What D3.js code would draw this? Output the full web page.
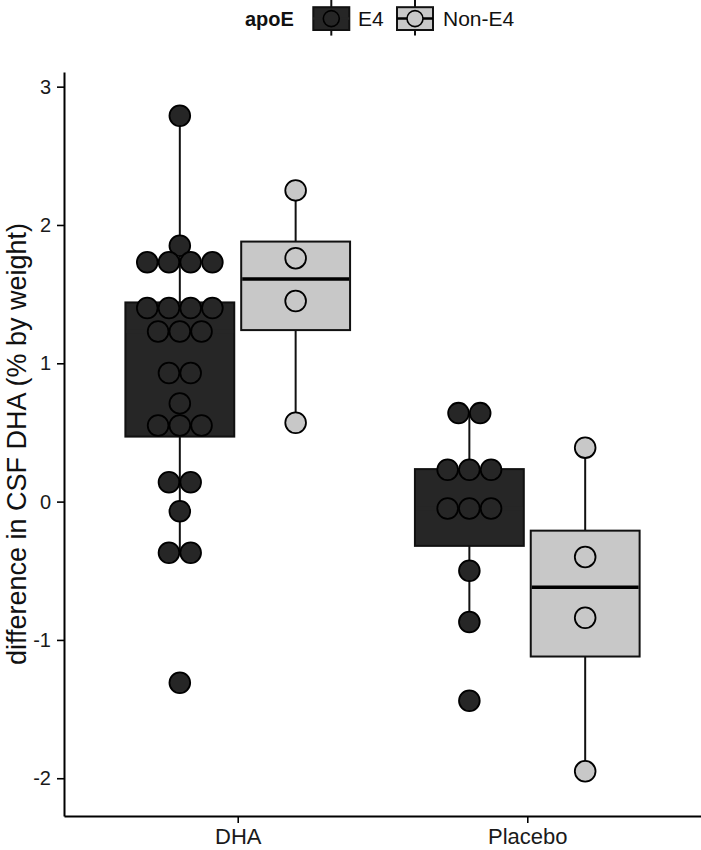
<!DOCTYPE html>
<html>
<head>
<meta charset="utf-8">
<script src="https://cdn.jsdelivr.net/npm/d3@7"></script>
<style>
  body { margin: 0; background: #fff; }
  text { font-family: "Liberation Sans", Arial, sans-serif; }
</style>
</head>
<body>
<div id="chart"></div>
<script>
var W = 701, H = 850,
    margin = { top: 72, right: 0, bottom: 34, left: 64 };

// treatment groups and apoE genotype
var categories = ["DHA", "Placebo"];
var genotypes = ["E4", "Non-E4"];
var colors = ["#262626", "#c8c8c8"];

// dot values (one entry per participant, binned as in the dotplot)
var dhaE4 = [2.79, 1.85, 1.73, 1.73, 1.73, 1.73, 1.40, 1.40, 1.40, 1.40,
             1.23, 1.23, 1.23, 0.93, 0.93, 0.71, 0.55, 0.55, 0.55,
             0.14, 0.14, -0.07, -0.37, -0.37, -1.31];
var dhaNonE4 = [2.25, 1.76, 1.45, 0.57];
var placeboE4 = [0.64, 0.64, 0.23, 0.23, 0.23, -0.05, -0.05, -0.05, -0.50, -0.87, -1.44];
var placeboNonE4 = [0.39, -0.40, -0.84, -1.95];

// box statistics, order: DHA/E4, DHA/Non-E4, Placebo/E4, Placebo/Non-E4
var boxGroup = ["DHA", "DHA", "Placebo", "Placebo"];
var boxGeno = ["E4", "Non-E4", "E4", "Non-E4"];
var boxLow = [-0.37, 0.57, -0.87, -1.95];
var boxQ1 = [0.47, 1.24, -0.32, -1.12];
var boxMed = [1.23, 1.61, -0.05, -0.62];
var boxQ3 = [1.44, 1.88, 0.235, -0.21];
var boxHigh = [2.79, 2.25, 0.64, 0.39];
var dotSets = [dhaE4, dhaNonE4, placeboE4, placeboNonE4];

var yTicks = [-2, -1, 0, 1, 2, 3];
var binwidth = 0.157;

var svg = d3.select("#chart").append("svg")
    .attr("width", W)
    .attr("height", H);

var x = d3.scalePoint()
    .domain(categories)
    .range([margin.left, W - margin.right])
    .padding(0.6);

var y = d3.scaleLinear()
    .domain([-2.273, 3.106])
    .range([H - margin.bottom, margin.top]);

var fill = d3.scaleOrdinal().domain(genotypes).range(colors);
// the median of the dark boxes does not show against the fill
var medianColor = d3.scaleOrdinal().domain(genotypes).range(["#262626", "#000"]);
var dodge = d3.scalePoint().domain(genotypes).range([-0.2, 0.2]);

var step = x.step(),
    boxW = 0.376 * step,
    dotD = y(0) - y(binwidth);

var groups = boxGroup.map(function(g, i) {
  return {
    group: g, geno: boxGeno[i],
    cx: x(g) + dodge(boxGeno[i]) * step,
    low: boxLow[i], q1: boxQ1[i], med: boxMed[i], q3: boxQ3[i], high: boxHigh[i],
    dots: dotSets[i]
  };
});

// boxplots
var box = svg.append("g").selectAll("g")
    .data(groups)
    .enter().append("g");

box.append("line")
    .attr("x1", function(d) { return d.cx; })
    .attr("x2", function(d) { return d.cx; })
    .attr("y1", function(d) { return y(d.q3); })
    .attr("y2", function(d) { return y(d.high); })
    .attr("stroke", "#111").attr("stroke-width", 2);

box.append("line")
    .attr("x1", function(d) { return d.cx; })
    .attr("x2", function(d) { return d.cx; })
    .attr("y1", function(d) { return y(d.q1); })
    .attr("y2", function(d) { return y(d.low); })
    .attr("stroke", "#111").attr("stroke-width", 2);

box.append("rect")
    .attr("x", function(d) { return d.cx - boxW / 2; })
    .attr("width", boxW)
    .attr("y", function(d) { return y(d.q3); })
    .attr("height", function(d) { return y(d.q1) - y(d.q3); })
    .attr("fill", function(d) { return fill(d.geno); })
    .attr("stroke", "#111").attr("stroke-width", 2);

box.append("line")
    .attr("x1", function(d) { return d.cx - boxW / 2 + 1; })
    .attr("x2", function(d) { return d.cx + boxW / 2 - 1; })
    .attr("y1", function(d) { return y(d.med); })
    .attr("y2", function(d) { return y(d.med); })
    .attr("stroke", function(d) { return medianColor(d.geno); })
    .attr("stroke-width", 3.5);

// dotplot, stacked centred on each bin
var dots = [];
groups.forEach(function(g) {
  d3.groups(g.dots, function(v) { return v; }).forEach(function(bin) {
    var n = bin[1].length;
    bin[1].forEach(function(v, k) {
      dots.push({ v: v, geno: g.geno, cx: g.cx + (k - (n - 1) / 2) * dotD });
    });
  });
});

svg.append("g").selectAll("circle")
    .data(dots)
    .enter().append("circle")
    .attr("cx", function(d) { return d.cx; })
    .attr("cy", function(d) { return y(d.v); })
    .attr("r", dotD / 2 - 0.5)
    .attr("fill", function(d) { return fill(d.geno); })
    .attr("stroke", "#000")
    .attr("stroke-width", 1.8);

// axes
var yAxis = svg.append("g")
    .attr("transform", "translate(" + margin.left + ",0)")
    .call(d3.axisLeft(y).tickValues(yTicks).tickFormat(function(d) { return String(d); })
      .tickSize(7).tickSizeOuter(0).tickPadding(6));

var xAxis = svg.append("g")
    .attr("transform", "translate(0," + (H - margin.bottom) + ")")
    .call(d3.axisBottom(x).tickSize(7).tickSizeOuter(0).tickPadding(5));

[yAxis, xAxis].forEach(function(a) {
  a.select(".domain").attr("stroke", "#000").attr("stroke-width", 2);
  a.selectAll(".tick line").attr("stroke", "#000").attr("stroke-width", 1.6);
});
yAxis.selectAll(".tick text")
    .attr("font-size", 20).attr("fill", "#1a1a1a")
    .attr("font-family", "Liberation Sans, Arial, sans-serif");
xAxis.selectAll(".tick text")
    .attr("font-size", 22).attr("fill", "#1a1a1a")
    .attr("font-family", "Liberation Sans, Arial, sans-serif");

svg.append("text")
    .attr("transform", "translate(26," + ((margin.top + H - margin.bottom) / 2) + ") rotate(-90)")
    .attr("text-anchor", "middle")
    .attr("font-size", 27)
    .attr("fill", "#111")
    .text("difference in CSF DHA (% by weight)");

// legend
var legend = svg.append("g").attr("transform", "translate(0,18.6)");

legend.append("text")
    .attr("x", 245).attr("dy", "0.35em")
    .attr("font-size", 20).attr("font-weight", "bold")
    .attr("fill", "#111")
    .text("apoE");

var keyX = [331.3, 415], labelX = [358, 443];
var key = legend.selectAll(".key")
    .data(genotypes)
    .enter().append("g")
    .attr("class", "key")
    .attr("transform", function(d, i) { return "translate(" + keyX[i] + ",0)"; });

key.append("line")
    .attr("y1", -18.6).attr("y2", 17)
    .attr("stroke", "#111").attr("stroke-width", 2);
key.append("rect")
    .attr("x", -18).attr("y", -11.4).attr("width", 36).attr("height", 22.8)
    .attr("fill", function(d) { return fill(d); })
    .attr("stroke", "#111").attr("stroke-width", 2);
key.append("line")
    .attr("x1", -18).attr("x2", 18)
    .attr("stroke", function(d) { return medianColor(d); }).attr("stroke-width", 2.5);
key.append("circle")
    .attr("r", 8)
    .attr("fill", function(d) { return fill(d); })
    .attr("stroke", "#000").attr("stroke-width", 1.6);
key.append("text")
    .attr("x", function(d, i) { return labelX[i] - keyX[i]; })
    .attr("dy", "0.35em")
    .attr("font-size", 21)
    .attr("fill", "#111")
    .text(function(d) { return d; });
</script>
</body>
</html>
